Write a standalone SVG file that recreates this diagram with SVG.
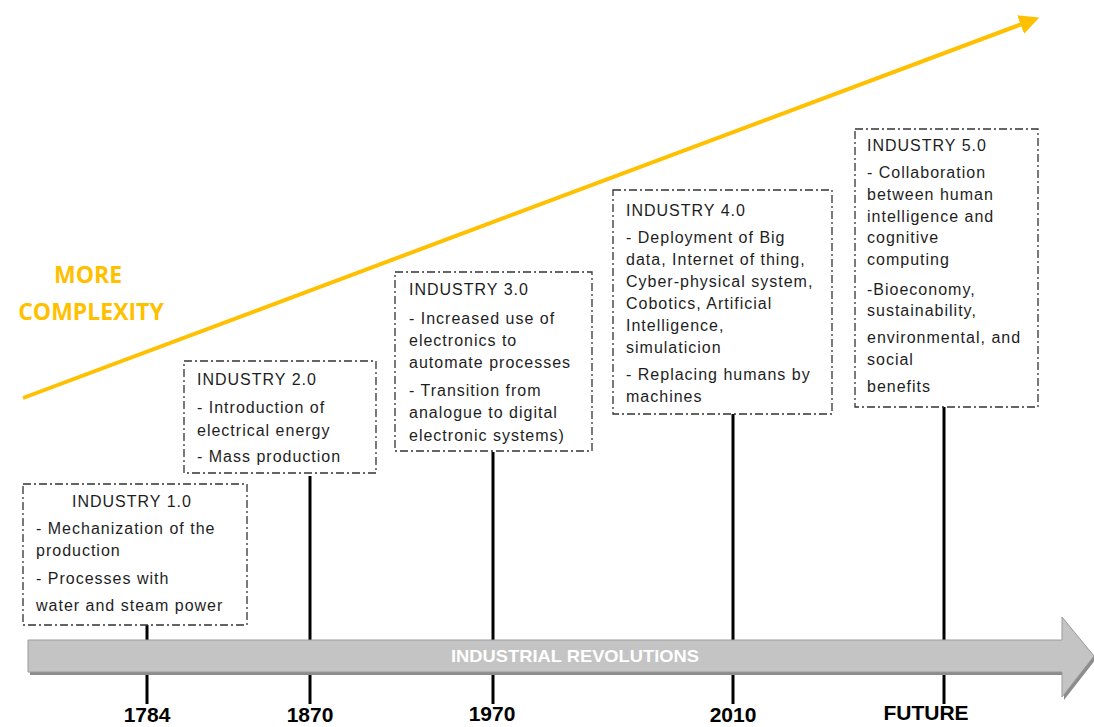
<svg xmlns="http://www.w3.org/2000/svg" width="1094" height="727" viewBox="0 0 1094 727">
<style>
.box{fill:#fff;stroke:#333;stroke-width:1.3;stroke-dasharray:8 3 2 3}
.t{font-family:"Liberation Sans",Arial,sans-serif;font-size:16px;fill:#1e1e1e;letter-spacing:1px}
.yr{font-family:"Liberation Sans",Arial,sans-serif;font-size:21px;font-weight:bold;fill:#000;text-anchor:middle}
.tick{stroke:#000;stroke-width:3}
.cx{font-family:"Open Sans","Liberation Sans",sans-serif;font-size:23px;font-weight:bold;fill:#FFC000;text-anchor:middle}
</style>
<defs>
<marker id="oh" markerWidth="5" markerHeight="5" refX="2.5" refY="2.5" orient="auto" markerUnits="strokeWidth">
<path d="M0,0 L5,2.5 L0,5 Z" fill="#FFC000"/>
</marker>
</defs>
<rect width="1094" height="727" fill="#fff"/>
<g id="connectors">
<line x1="23" y1="398" x2="1030" y2="21" stroke="#FFC000" stroke-width="4" marker-end="url(#oh)"/>
<line class="tick" x1="147" y1="618" x2="147" y2="704"/>
<line class="tick" x1="310" y1="476" x2="310" y2="704"/>
<line class="tick" x1="493" y1="452" x2="493" y2="704"/>
<line class="tick" x1="733" y1="414" x2="733" y2="704"/>
<line class="tick" x1="944" y1="407" x2="944" y2="704"/>
</g>
<g id="timeline">
<polygon points="30,643 1064,643 1064,620 1096,659 1064,700 1064,675 30,675" fill="#8c8c8c"/>
<polygon points="28,640 1062,640 1062,617 1094,656 1062,697 1062,672 28,672" fill="#c4c4c4" stroke="#9a9a9a" stroke-width="1"/>
<text x="575" y="662" font-family="Liberation Sans,Arial,sans-serif" font-size="17" font-weight="bold" fill="#fff" text-anchor="middle" textLength="248" lengthAdjust="spacingAndGlyphs">INDUSTRIAL REVOLUTIONS</text>
</g>
<g id="label-complexity">
<text class="cx" x="88" y="283">MORE</text>
<text class="cx" x="91" y="320">COMPLEXITY</text>
</g>
<g id="industry1">
<rect class="box" x="23" y="484" width="224" height="141"/>
<text class="t" x="72" y="507">INDUSTRY 1.0</text>
<text class="t" x="36" y="534">- Mechanization of the</text>
<text class="t" x="36" y="556">production</text>
<text class="t" x="36" y="584">- Processes with</text>
<text class="t" x="36" y="611">water and steam power</text>
</g>
<g id="industry2">
<rect class="box" x="184" y="361" width="192" height="112"/>
<text class="t" x="197" y="385">INDUSTRY 2.0</text>
<text class="t" x="197" y="413">- Introduction of</text>
<text class="t" x="197" y="436">electrical energy</text>
<text class="t" x="197" y="462">- Mass production</text>
</g>
<g id="industry3">
<rect class="box" x="395" y="272" width="197" height="179"/>
<text class="t" x="409" y="295">INDUSTRY 3.0</text>
<text class="t" x="409" y="324">- Increased use of</text>
<text class="t" x="409" y="346">electronics to</text>
<text class="t" x="409" y="368">automate processes</text>
<text class="t" x="409" y="396">- Transition from</text>
<text class="t" x="409" y="418">analogue to digital</text>
<text class="t" x="409" y="441">electronic systems)</text>
</g>
<g id="industry4">
<rect class="box" x="613" y="190" width="219" height="224"/>
<text class="t" x="626" y="216">INDUSTRY 4.0</text>
<text class="t" x="626" y="243">- Deployment of Big</text>
<text class="t" x="626" y="265">data, Internet of thing,</text>
<text class="t" x="626" y="287">Cyber-physical system,</text>
<text class="t" x="626" y="309">Cobotics, Artificial</text>
<text class="t" x="626" y="331">Intelligence,</text>
<text class="t" x="626" y="353">simulaticion</text>
<text class="t" x="626" y="380">- Replacing humans by</text>
<text class="t" x="626" y="402">machines</text>
</g>
<g id="industry5">
<rect class="box" x="855" y="129" width="183" height="278"/>
<text class="t" x="867" y="151">INDUSTRY 5.0</text>
<text class="t" x="867" y="178">- Collaboration</text>
<text class="t" x="867" y="200">between human</text>
<text class="t" x="867" y="222">intelligence and</text>
<text class="t" x="867" y="243">cognitive</text>
<text class="t" x="867" y="265">computing</text>
<text class="t" x="867" y="295">-Bioeconomy,</text>
<text class="t" x="867" y="316">sustainability,</text>
<text class="t" x="867" y="343">environmental, and</text>
<text class="t" x="867" y="365">social</text>
<text class="t" x="867" y="392">benefits</text>
</g>
<g id="years">
<text class="yr" x="147" y="722">1784</text>
<text class="yr" x="310" y="722">1870</text>
<text class="yr" x="492" y="721">1970</text>
<text class="yr" x="733" y="722">2010</text>
<text class="yr" x="926" y="720">FUTURE</text>
</g>
</svg>
